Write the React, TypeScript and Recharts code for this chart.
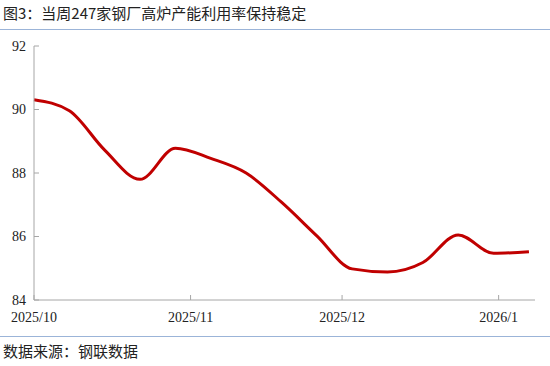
import { LineChart, Line, XAxis, YAxis } from "recharts";

// days since 2025/10/1, weekly readings
const days = [0, 7, 14, 21, 28, 35, 42, 49, 56, 63, 70, 77, 84, 91, 98];
const utilization = [
  90.31, 89.96, 88.72, 87.8, 88.78, 88.46, 88.0, 87.08, 86.02, 84.98, 84.88,
  85.18, 86.05, 85.47, 85.52,
];

const xTicks = [0, 31, 61, 92];
const xTickLabels = ["2025/10", "2025/11", "2025/12", "2026/1"];
const yTicks = [84, 86, 88, 90, 92];

const data = days.map((d, i) => ({ day: d, value: utilization[i] }));

const axisColor = "#a6a6a6";
const tickStyle = {
  fontFamily: "'Liberation Serif', serif",
  fontSize: 14,
  fill: "#222",
};

export default function App() {
  return (
    <div
      style={{
        position: "absolute",
        left: 0,
        top: 0,
        width: 550,
        height: 366,
        background: "#fff",
        overflow: "hidden",
      }}
    >
      <div
        style={{
          position: "absolute",
          left: 3,
          top: 2,
          fontFamily: "'Noto Sans CJK SC', sans-serif",
          fontSize: 15,
          color: "#222",
          whiteSpace: "nowrap",
        }}
      >
        图3：当周247家钢厂高炉产能利用率保持稳定
      </div>
      <div
        style={{
          position: "absolute",
          left: 0,
          top: 29,
          width: 550,
          height: 1,
          background: "#9bb4d8",
        }}
      />

      <div style={{ position: "absolute", left: 0, top: 0 }}>
        <LineChart
          width={550}
          height={366}
          data={data}
          margin={{ top: 46, right: 15, bottom: 36, left: 0 }}
        >
          <XAxis
            dataKey="day"
            type="number"
            domain={[0, 99.2]}
            ticks={xTicks}
            tickFormatter={(v) => xTickLabels[xTicks.indexOf(v)] ?? ""}
            height={30}
            stroke={axisColor}
            tickSize={-5}
            tickMargin={17}
            tick={tickStyle}
            interval={0}
          />
          <YAxis
            type="number"
            domain={[84, 92]}
            ticks={yTicks}
            width={34}
            stroke={axisColor}
            tickSize={-5}
            tickMargin={13}
            tick={tickStyle}
            interval={0}
          />
          <Line
            type="monotone"
            dataKey="value"
            stroke="#c00000"
            strokeWidth={3}
            dot={false}
            isAnimationActive={false}
          />
        </LineChart>
      </div>

      <div
        style={{
          position: "absolute",
          left: 0,
          top: 336,
          width: 550,
          height: 1,
          background: "#9bb4d8",
        }}
      />
      <div
        style={{
          position: "absolute",
          left: 3,
          top: 340,
          fontFamily: "'Noto Sans CJK SC', sans-serif",
          fontSize: 15,
          color: "#222",
          whiteSpace: "nowrap",
        }}
      >
        数据来源：钢联数据
      </div>
    </div>
  );
}
